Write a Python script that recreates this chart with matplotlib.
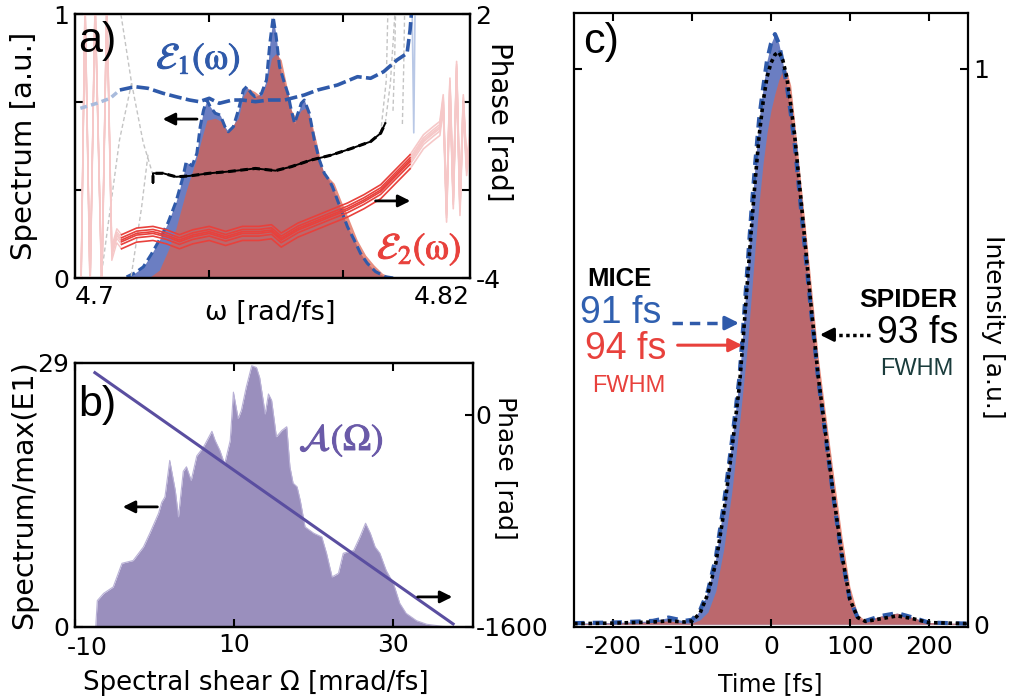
import matplotlib.pyplot as plt
import matplotlib.patheffects as pe

plt.rcParams['font.family'] = 'DejaVu Sans'
plt.rcParams['axes.unicode_minus'] = False
plt.rcParams['mathtext.fontset'] = 'stix'

W, H = 1012, 699

# ---------------- panel a : spectra (left axis) and phases (right axis) vs omega
e1_omega = [4.7154, 4.7180, 4.7204, 4.7228, 4.7252, 4.7278, 4.7302, 4.7322, 4.7332, 4.7350,
            4.7364, 4.7374, 4.7384, 4.7394, 4.7404, 4.7419, 4.7434, 4.7448, 4.7458, 4.7473,
            4.7488, 4.7503, 4.7513, 4.7527, 4.7537, 4.7557, 4.7572, 4.7582, 4.7592, 4.7601,
            4.7611, 4.7626, 4.7636, 4.7646, 4.7656, 4.7666, 4.7676, 4.7685, 4.7700, 4.7715,
            4.7730, 4.7745, 4.7759, 4.7769, 4.7784, 4.7799, 4.7814, 4.7834, 4.7853, 4.7873,
            4.7898, 4.7927, 4.7952]
e1_spec = [0.004, 0.02, 0.042, 0.09, 0.144, 0.21, 0.29, 0.38, 0.439, 0.425,
           0.472, 0.573, 0.636, 0.674, 0.649, 0.624, 0.617, 0.573, 0.554, 0.573,
           0.636, 0.712, 0.725, 0.699, 0.687, 0.699, 0.750, 0.889, 0.99, 0.914,
           0.801, 0.737, 0.699, 0.636, 0.586, 0.624, 0.662, 0.674, 0.624, 0.523,
           0.447, 0.396, 0.371, 0.346, 0.295, 0.245, 0.194, 0.144, 0.093, 0.056,
           0.024, 0.005, 0.0]

e2_omega = [4.7220, 4.7252, 4.7280, 4.7302, 4.7332, 4.7360, 4.7381, 4.7394, 4.7419, 4.7439,
            4.7453, 4.7468, 4.7488, 4.7503, 4.7518, 4.7537, 4.7557, 4.7572, 4.7587, 4.7601,
            4.7616, 4.7631, 4.7646, 4.7661, 4.7676, 4.7690, 4.7705, 4.7720, 4.7740, 4.7755,
            4.7774, 4.7794, 4.7819, 4.7843, 4.7868, 4.7893, 4.7918, 4.7947]
e2_spec = [0.0, 0.03, 0.11, 0.19, 0.33, 0.44, 0.54, 0.598, 0.605, 0.592,
           0.554, 0.573, 0.605, 0.687, 0.718, 0.706, 0.687, 0.737, 0.832, 0.851,
           0.826, 0.737, 0.636, 0.605, 0.636, 0.643, 0.598, 0.523, 0.409, 0.384,
           0.359, 0.295, 0.220, 0.144, 0.087, 0.049, 0.018, 0.0]

e1_phase_faint_omega = [4.7016, 4.7065, 4.7105, 4.7134]
e1_phase_faint = [-0.143, -0.03, 0.084, 0.273]
e1_phase_omega = [4.7134, 4.7179, 4.7218, 4.7263, 4.7302, 4.7342, 4.7371, 4.7401, 4.7431, 4.7470,
                  4.7500, 4.7539, 4.7579, 4.7626, 4.7685, 4.7725, 4.7784, 4.7844, 4.7883, 4.7922,
                  4.7962, 4.7992, 4.8001, 4.8007]
e1_phase = [0.273, 0.348, 0.311, 0.198, 0.120, 0.045, 0.007, 0.084, -0.030, 0.045,
            0.045, 0.007, 0.045, 0.045, 0.159, 0.273, 0.386, 0.575, 0.539, 0.689,
            0.955, 1.107, 1.636, 2.2]
e1_tail_omega = [4.8007, 4.8012, 4.8016]
e1_tail_phase = [2.2, -0.70, 2.2]

spider_phase_omega = [4.7233, 4.7233, 4.7263, 4.7302, 4.7342, 4.7401, 4.7460, 4.7539, 4.7599, 4.7646,
                      4.7705, 4.7764, 4.7824, 4.7883, 4.7913, 4.7927]
spider_phase = [-1.84, -1.62, -1.62, -1.70, -1.68, -1.62, -1.58, -1.51, -1.56, -1.47,
                -1.32, -1.21, -1.06, -0.90, -0.71, -0.48]

# unmasked SPIDER phase outside the spectrum (grey dashed)
grey_left = [([4.7233, 4.7204, 4.7169, 4.7133], [-1.66, -0.93, 0.43, 2.2]),
             ([4.7169, 4.7133, 4.7074], [0.43, -0.86, -4.2]),
             ([4.7218, 4.7199, 4.7163], [-1.2, -2.39, -4.2])]
grey_right = [([4.7927, 4.7942, 4.7952, 4.7957], [-0.48, 0.42, 1.56, 2.2]),
              ([4.7913, 4.7930, 4.7935], [-0.71, 0.5, 2.2]),
              ([4.7950, 4.7955, 4.7958], [-0.2, 1.0, 2.2]),
              ([4.7978, 4.7982, 4.7985], [-0.5, 0.8, 2.2])]

e2_phase_omega = [4.7139, 4.7184, 4.7233, 4.7273, 4.7312, 4.7352, 4.7401, 4.7450, 4.7500, 4.7549,
                  4.7587, 4.7616, 4.7666, 4.7715, 4.7764, 4.7814, 4.7863, 4.7913, 4.7962, 4.8001]
e2_phase = [-3.136, -2.985, -2.947, -3.023, -3.136, -3.023, -2.947, -3.061, -2.947, -2.947,
            -2.909, -3.098, -2.871, -2.720, -2.568, -2.416, -2.227, -2.0, -1.62, -1.318]
e2_phase_spread = [-0.2, -0.1, -0.04, 0.0, 0.05, 0.12]
e2_tail_r_omega = [4.8001, 4.8041, 4.8071, 4.8090, 4.8100, 4.8110, 4.8120, 4.8130, 4.8140, 4.8150,
                   4.8160, 4.8170, 4.8179]
e2_tail_r_phase = [-1.318, -0.864, -0.674, -0.561, 0.045, -2.53, 0.424, -2.227, 0.803, -2.379,
                   0.045, -1.47, -0.864]
e2_tail_l_omega = [4.7139, 4.7125, 4.7110, 4.7095, 4.7080, 4.7060, 4.7045, 4.7030, 4.7018]
e2_tail_l_phase = [-3.136, -3.0, -3.4, 2.3, -4.2, 2.3, -4.2, 2.3, -4.2]

# ---------------- panel b : SPIDER spectrum vs shear and fitted phase
shear = [-7.4, -7.2, -6.4, -5.2, -4.1, -2.7, -1.4, -0.6, 0.5, 0.9, 1.3, 1.9, 2.6, 3.0, 3.6, 4.0,
         4.6, 5.3, 6.1, 7.2, 7.6, 8.2, 8.8, 9.5, 9.9, 10.5, 10.9, 11.5, 12.2, 12.8, 13.2, 13.9,
         14.3, 14.7, 15.3, 16.0, 16.6, 17.0, 17.4, 17.9, 18.3, 18.9, 20.0, 21.0, 21.6, 22.3, 23.1,
         23.7, 25.0, 25.8, 26.5, 27.1, 27.7, 28.3, 29.1, 30.0, 30.8, 31.6, 32.9, 34.2, 36.2, 37.5]
shear_spec = [0.0, 2.9, 3.7, 4.4, 7.0, 7.3, 8.8, 10.3, 12.5, 13.7, 14.3, 18.3, 15.0, 12.1, 17.1, 17.6,
              16.1, 18.8, 19.7, 21.5, 20.5, 19.4, 17.9, 20.5, 25.8, 22.9, 23.8, 26.3, 28.7, 28.5, 27.4, 23.4,
              25.6, 24.9, 20.9, 21.6, 22.0, 17.6, 15.8, 15.4, 13.9, 11.0, 10.3, 9.9, 8.1, 5.5, 5.9,
              8.1, 8.4, 9.9, 11.4, 10.3, 8.8, 8.1, 6.2, 4.8, 2.6, 1.5, 0.7, 0.3, 0.07, 0.0]
shear_fit = [-7.5, 37.5]
phase_fit = [317, -1577]

# ---------------- panel c : temporal intensity
t_fs = [-250, -200, -150, -130, -110, -100, -90, -80, -70, -60,
        -50, -40, -35, -30, -25, -20, -15, -10, -5, 0,
        5, 10, 15, 20, 25, 30, 40, 50, 60, 70,
        80, 90, 100, 110, 120, 140, 160, 180, 200, 250]
mice_e1 = [0.002, 0.003, 0.006, 0.012, 0.006, 0.008, 0.025, 0.06, 0.12, 0.215,
           0.325, 0.445, 0.54, 0.64, 0.74, 0.83, 0.91, 0.965, 1.015, 1.045,
           1.062, 1.045, 1.01, 0.97, 0.92, 0.865, 0.72, 0.575, 0.44, 0.33,
           0.22, 0.12, 0.045, 0.012, 0.006, 0.015, 0.02, 0.012, 0.003, 0.001]
spider = [0.001, 0.002, 0.004, 0.006, 0.004, 0.006, 0.02, 0.055, 0.11, 0.2,
          0.31, 0.43, 0.52, 0.615, 0.71, 0.8, 0.88, 0.94, 0.985, 1.01,
          1.025, 1.03, 1.015, 0.985, 0.935, 0.88, 0.735, 0.585, 0.445, 0.335,
          0.225, 0.125, 0.045, 0.012, 0.005, 0.01, 0.015, 0.01, 0.003, 0.001]
mice_e2 = [0.001, 0.002, 0.004, 0.006, 0.002, 0.002, 0.008, 0.022, 0.06, 0.135,
           0.235, 0.36, 0.43, 0.5, 0.59, 0.68, 0.76, 0.83, 0.885, 0.925,
           0.955, 0.98, 0.997, 0.995, 0.97, 0.905, 0.765, 0.625, 0.48, 0.37,
           0.262, 0.158, 0.068, 0.018, 0.006, 0.015, 0.02, 0.012, 0.003, 0.001]

blue_fill = '#6b7ec2'
blue_line = '#2f5aaa'
red_fill = '#de604a'
red_line = '#e8413c'
pink = '#f6c8c8'
grey = '#c4c4c4'
lav_fill = '#9a8fbd'
lav_line = '#5a4ea0'

fig = plt.figure(figsize=(W / 100, H / 100), dpi=100)


def fig_text(px, py, s, **kw):
    fig.text(px / W, 1 - py / H, s, ha='center', va='center', **kw)


def style_axes(ax):
    for sp in ax.spines.values():
        sp.set_linewidth(1.6)
    ax.tick_params(direction='in', length=6, width=1.5, labelsize=18, pad=4)


def bold(color):
    return [pe.withStroke(linewidth=0.7, foreground=color)]


# ---- a)
ax_a = fig.add_axes([75 / W, 1 - 278 / H, 395 / W, 264 / H])
ax_a.fill_between(e1_omega, e1_spec, color=blue_fill, lw=0)
ax_a.plot(e1_omega, e1_spec, color=blue_line, lw=2.2, ls=(0, (3, 1.5)))
ax_a.fill_between(e2_omega, e2_spec, color=red_fill, alpha=0.7, lw=0)
ax_a.set_xlim(4.70, 4.818)
ax_a.set_ylim(0, 1)
ax_a.set_xticks([4.74, 4.78])
ax_a.set_xticklabels([])
ax_a.set_yticks([0, 1 / 3, 2 / 3, 1])
ax_a.set_yticklabels(['0', '', '', '1'])

ax_a2 = ax_a.twinx()
ax_a2.set_ylim(-4, 2)
ax_a2.set_yticks([-4, -2, 0, 2])
ax_a2.set_yticklabels(['-4', '', '', '2'])
for xs, ys in grey_left + grey_right:
    ax_a2.plot(xs, ys, color=grey, lw=1.0, ls=(0, (3, 2)))
for off in e2_phase_spread:
    ax_a2.plot(e2_tail_l_omega, [p + off for p in e2_tail_l_phase], color=pink, lw=1.0)
    ax_a2.plot(e2_tail_r_omega, [p + off for p in e2_tail_r_phase], color=pink, lw=1.2)
ax_a2.plot(e1_tail_omega, e1_tail_phase, color='#b9c8e6', lw=1.2)
ax_a2.plot(e1_phase_faint_omega, e1_phase_faint, color='#a9bbdc', lw=2.5, ls=(0, (2, 1.2)))
ax_a2.plot(e1_phase_omega, e1_phase, color=blue_line, lw=2.6, ls=(0, (3.5, 1.2)))
ax_a2.plot(spider_phase_omega, spider_phase, color='black', lw=1.4)
ax_a2.plot(spider_phase_omega, spider_phase, color='black', lw=2.2, ls=(0, (2.5, 1.5)))
for off in e2_phase_spread:
    ax_a2.plot(e2_phase_omega, [p + off for p in e2_phase], color=red_line, lw=1.2)
ax_a2.annotate('', xy=(0.215, 0.602), xytext=(0.316, 0.602), xycoords='axes fraction',
               arrowprops=dict(arrowstyle='-|>', color='black', lw=2, mutation_scale=18))
ax_a2.annotate('', xy=(0.856, 0.292), xytext=(0.754, 0.292), xycoords='axes fraction',
               arrowprops=dict(arrowstyle='-|>', color='black', lw=2, mutation_scale=18))
ax_a2.text(0.205, 0.83, r'$\mathcal{E}_1(\mathrm{\omega})$', transform=ax_a2.transAxes,
           color=blue_line, fontsize=27, ha='left', va='center', path_effects=bold(blue_line))
ax_a2.text(0.764, 0.11, r'$\mathcal{E}_2(\mathrm{\omega})$', transform=ax_a2.transAxes,
           color=red_line, fontsize=27, ha='left', va='center', path_effects=bold(red_line))
ax_a2.text(0.008, 0.898, 'a)', transform=ax_a2.transAxes, fontsize=31,
           family='Liberation Sans', ha='left', va='center')
ax_a2.text(0.0, -0.025, '4.7', transform=ax_a2.transAxes, fontsize=18, ha='left', va='top')
ax_a2.text(1.0, -0.025, '4.82', transform=ax_a2.transAxes, fontsize=18, ha='right', va='top')
for ax in (ax_a, ax_a2):
    style_axes(ax)
ax_a.tick_params(top=True, right=False)
ax_a2.tick_params(left=False, right=True)

# ---- b)
ax_b = fig.add_axes([75 / W, 1 - 627 / H, 398 / W, 264 / H])
ax_b.fill_between(shear, shear_spec, color=lav_fill, lw=0)
ax_b.plot(shear, shear_spec, color='#b9b1d6', lw=0.8)
ax_b.set_xlim(-10, 40)
ax_b.set_ylim(0, 29)
ax_b.set_xticks([-10, 10, 30])
ax_b.set_xticklabels(['', '10', '30'])
ax_b.set_yticks([0, 29])
ax_b2 = ax_b.twinx()
ax_b2.plot(shear_fit, phase_fit, color=lav_line, lw=2.2)
ax_b2.set_ylim(-1600, 390)
ax_b2.set_yticks([-1600, 0])
ax_b2.annotate('', xy=(0.113, 0.455), xytext=(0.214, 0.455), xycoords='axes fraction',
               arrowprops=dict(arrowstyle='-|>', color='black', lw=2, mutation_scale=18))
ax_b2.annotate('', xy=(0.955, 0.114), xytext=(0.854, 0.114), xycoords='axes fraction',
               arrowprops=dict(arrowstyle='-|>', color='black', lw=2, mutation_scale=18))
ax_b2.text(0.562, 0.708, r'$\mathcal{A}(\Omega)$', transform=ax_b2.transAxes,
           color='#6a5aa8', fontsize=27, ha='left', va='center', path_effects=bold('#6a5aa8'))
ax_b2.text(0.008, 0.841, 'b)', transform=ax_b2.transAxes, fontsize=31,
           family='Liberation Sans', ha='left', va='center')
ax_b2.text(-0.02, -0.035, '-10', transform=ax_b2.transAxes, fontsize=18, ha='left', va='top')
for ax in (ax_b, ax_b2):
    style_axes(ax)
ax_b.tick_params(top=True, right=False)
ax_b2.tick_params(left=False, right=True, pad=2)

# ---- c)
ax_c = fig.add_axes([574 / W, 1 - 627 / H, 394 / W, 614 / H])
ax_c.fill_between(t_fs, mice_e1, color=blue_fill, lw=0)
ax_c.plot(t_fs, mice_e1, color=blue_line, lw=3, ls=(0, (2.5, 2)))
ax_c.plot(t_fs, spider, color='black', lw=2.6, ls=(0, (1, 1)))
ax_c.fill_between(t_fs, mice_e2, color=red_fill, alpha=0.7, lw=0)
ax_c.set_xlim(-250, 250)
ax_c.set_ylim(-0.005, 1.10)
ax_c.set_xticks([-200, -100, 0, 100, 200])
ax_c.set_yticks([0, 1])
style_axes(ax_c)
ax_c.tick_params(axis='x', pad=6)
ax_c.tick_params(top=True, right=True, labelleft=False, labelright=True)
ax_c.text(0.023, 0.953, 'c)', transform=ax_c.transAxes, fontsize=31,
          family='Liberation Sans', ha='left', va='center')
lab = dict(transform=ax_c.transAxes, family='Liberation Sans', va='center')
ax_c.text(0.033, 0.567, 'MICE', fontsize=18.5, weight='bold', ha='left', **lab)
ax_c.text(0.015, 0.511, '91 fs', fontsize=27, color='#3060b0', ha='left', **lab)
ax_c.text(0.028, 0.453, '94 fs', fontsize=27, color=red_line, ha='left', **lab)
ax_c.text(0.046, 0.392, 'FWHM', fontsize=17, color=red_line, ha='left', **lab)
ax_c.text(0.972, 0.533, 'SPIDER', fontsize=19, weight='bold', ha='right', **lab)
ax_c.text(0.975, 0.479, '93 fs', fontsize=27, ha='right', **lab)
ax_c.text(0.962, 0.42, 'FWHM', fontsize=17, color='#1a3c3c', ha='right', **lab)
# FWHM arrows: shafts with their own line style, solid heads
ax_c.plot([0.249, 0.39], [0.495, 0.495], transform=ax_c.transAxes, color=blue_line,
          lw=2.5, ls=(0, (3, 2)))
ax_c.annotate('', xy=(0.426, 0.495), xytext=(0.38, 0.495), xycoords='axes fraction',
              arrowprops=dict(arrowstyle='-|>', color=blue_line, lw=2.5, mutation_scale=20))
ax_c.annotate('', xy=(0.434, 0.459), xytext=(0.256, 0.459), xycoords='axes fraction',
              arrowprops=dict(arrowstyle='-|>', color=red_line, lw=2.2, mutation_scale=20))
ax_c.plot([0.751, 0.66], [0.476, 0.476], transform=ax_c.transAxes, color='black',
          lw=2.5, ls=(0, (1, 1)))
ax_c.annotate('', xy=(0.617, 0.476), xytext=(0.66, 0.476), xycoords='axes fraction',
              arrowprops=dict(arrowstyle='-|>', color='black', lw=2.2, mutation_scale=20))

# axis labels
fig_text(24, 146, 'Spectrum [a.u.]', fontsize=21, rotation=90)
fig_text(499, 122, 'Phase [rad]', fontsize=20, rotation=270)
fig_text(270, 313, 'ω [rad/fs]', fontsize=19.5)
fig_text(24, 495, 'Spectrum/max(E1)', fontsize=20.5, rotation=90)
fig_text(506, 468, 'Phase [rad]', fontsize=18, rotation=270)
fig_text(256, 683, 'Spectral shear Ω [mrad/fs]', fontsize=18.7)
fig_text(770, 684, 'Time [fs]', fontsize=17)
fig_text(993, 327, 'Intensity [a.u.]', fontsize=18, rotation=270)

fig.savefig('out.png', dpi=100)
